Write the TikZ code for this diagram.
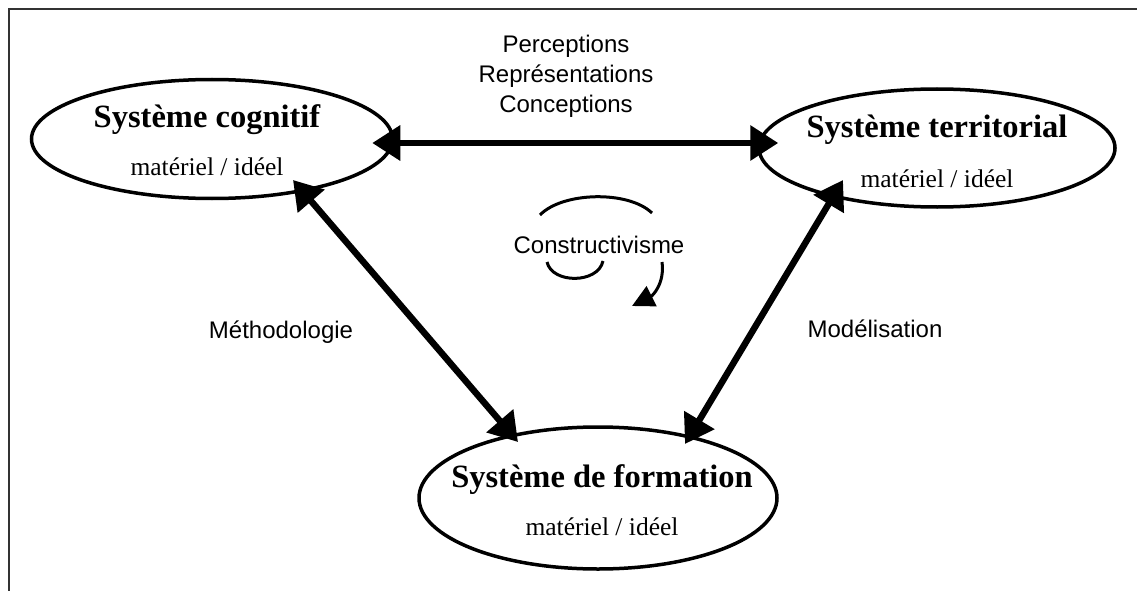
\documentclass[tikz,border=0pt]{standalone}
\usepackage{fontspec}
\setmainfont{Liberation Serif}
\newfontfamily\arialf{Liberation Sans}
\usetikzlibrary{arrows.meta,shapes.geometric,calc}
\begin{document}
\begin{tikzpicture}[x=1pt,y=-1pt,
  sys/.style={draw, ellipse, line width=3.5pt, inner sep=0pt},
  ttl/.style={anchor=base, inner sep=0pt, font=\fontsize{32.5}{36}\selectfont\bfseries},
  sub/.style={anchor=base, inner sep=0pt, font=\fontsize{25.5}{30}\selectfont},
  biarrow/.style={line width=6.5pt,
    {Triangle[length=28pt,width=34pt]}-{Triangle[length=28pt,width=34pt]}},
  lab/.style={font=\arialf\fontsize{24}{30}\selectfont, align=center, inner sep=0pt, anchor=base},
  curl/.style={line width=3pt}
]
\useasboundingbox (0,0) rectangle (1137,591);
\draw[line width=2pt, black!80] (9,591) -- (9,9) -- (1137,9);

\node[sys, minimum width=361pt, minimum height=119pt] (cog) at (212,139) {};
\node[sys, minimum width=356pt, minimum height=118pt] (ter) at (937,148) {};
\node[sys, minimum width=358pt, minimum height=142pt] (form) at (598,498) {};

\node[ttl] (cogT) at (207,128) {Système cognitif};
\node[sub] (cogS) at (207,175) {matériel / idéel};
\node[ttl] (terT) at (937,138) {Système territorial};
\node[sub] (terS) at (937,187) {matériel / idéel};
\node[ttl] (formT) at (602,487) {Système de formation};
\node[sub] (formS) at (602,535) {matériel / idéel};

\draw[biarrow] ($(cog.east)+(-22,4)$) -- ($(ter.west)+(21,-5)$);
\draw[biarrow] ($(cog.center)+(81,41)$) -- ($(form.center)+(-80,-56)$);
\draw[biarrow] ($(ter.center)+(-94,32)$) -- ($(form.center)+(87,-54)$);

\node[lab] (pcc) at (566,113) {Perceptions\\Représentations\\Conceptions};
\node[lab] (cons) at (599,253) {Constructivisme};
\node[lab] (meth) at (281,338) {Méthodologie};
\node[lab] (mod) at (875,337) {Modélisation};

\draw[curl] (540,215) .. controls (562,192) and (628,190) .. (652,213);
\draw[curl] (547,262) .. controls (552,284) and (598,284) .. (603,261);
\draw[curl, -{Triangle[length=22pt,width=22pt]}] (662,262) .. controls (665,284) and (652,296) .. (632,306);
\end{tikzpicture}
\end{document}
